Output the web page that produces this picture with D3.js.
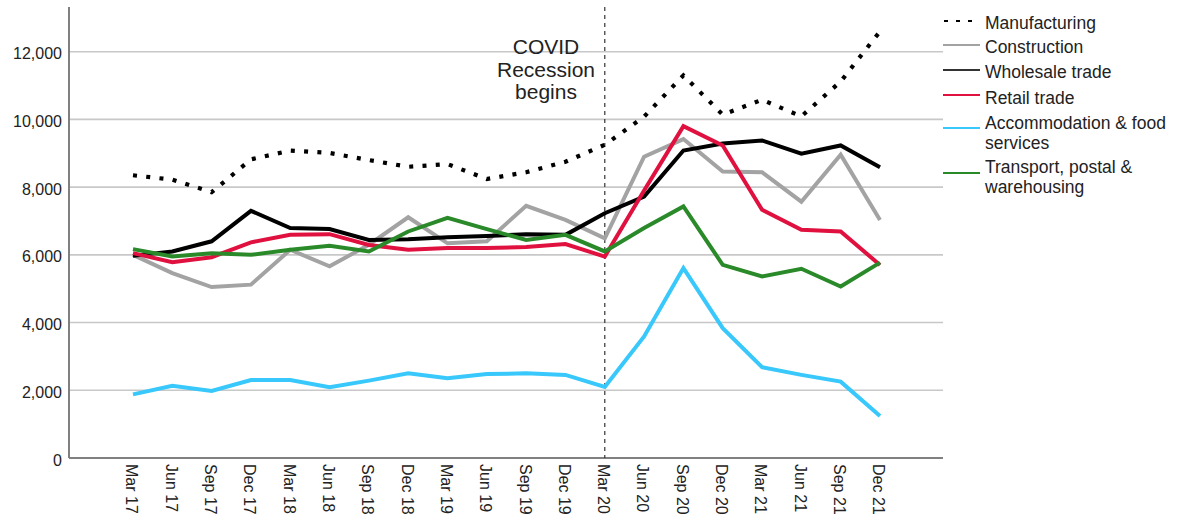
<!DOCTYPE html>
<html>
<head>
<meta charset="utf-8">
<script src="https://cdn.jsdelivr.net/npm/d3@7"></script>
<style>
  html, body { margin: 0; padding: 0; background: #fff; }
  svg { display: block; font-family: "Liberation Sans", Arial, sans-serif; }
</style>
</head>
<body>
<svg id="chart" width="1201" height="517"></svg>
<script>
const categories = ["Mar 17","Jun 17","Sep 17","Dec 17","Mar 18","Jun 18","Sep 18","Dec 18","Mar 19","Jun 19","Sep 19","Dec 19","Mar 20","Jun 20","Sep 20","Dec 20","Mar 21","Jun 21","Sep 21","Dec 21"];
const manufacturing = [8350, 8220, 7850, 8820, 9080, 9010, 8800, 8600, 8680, 8240, 8440, 8750, 9250, 10080, 11300, 10140, 10580, 10090, 11120, 12600];
const construction = [6000, 5460, 5050, 5120, 6150, 5660, 6300, 7110, 6340, 6400, 7450, 7030, 6490, 8900, 9420, 8460, 8440, 7570, 8960, 7030];
const wholesale = [5970, 6100, 6400, 7300, 6790, 6760, 6440, 6460, 6520, 6560, 6610, 6590, 7230, 7720, 9080, 9290, 9380, 8990, 9230, 8590];
const retail = [6050, 5780, 5930, 6370, 6590, 6610, 6290, 6150, 6200, 6200, 6230, 6320, 5950, 7900, 9800, 9230, 7330, 6740, 6690, 5700];
const accommodation = [1880, 2130, 1980, 2305, 2305, 2090, 2285, 2500, 2355, 2480, 2500, 2455, 2100, 3590, 5610, 3835, 2680, 2455, 2255, 1240];
const transport = [6170, 5950, 6050, 6000, 6150, 6270, 6100, 6690, 7090, 6760, 6440, 6590, 6100, 6790, 7430, 5705, 5360, 5590, 5065, 5770];
const yTicks = [0, 2000, 4000, 6000, 8000, 10000, 12000];
const seriesNames = ["Manufacturing", "Construction", "Wholesale trade", "Retail trade", "Accommodation & food services", "Transport, postal & warehousing"];
const legendLines = [["Manufacturing"], ["Construction"], ["Wholesale trade"], ["Retail trade"], ["Accommodation & food", "services"], ["Transport, postal &", "warehousing"]];
const annotationLines = ["COVID", "Recession", "begins"];
const annotationAt = "Mar 20";

const seriesValues = [manufacturing, construction, wholesale, retail, accommodation, transport];
const colors = ["#000000", "#a3a3a3", "#000000", "#e0103f", "#38c8fb", "#2a8a2a"];

const svg = d3.select("#chart");
const plotLeft = 69, plotRight = 943, plotBottom = 458, plotTop = 7;

const x = d3.scalePoint().domain(categories).range([133, 880]);
const y = d3.scaleLinear().domain([0, 13320]).range([plotBottom, plotTop]);

// gridlines
svg.append("g").selectAll("line").data(yTicks.filter(d => d > 0)).join("line")
  .attr("x1", plotLeft).attr("x2", plotRight)
  .attr("y1", d => y(d)).attr("y2", d => y(d))
  .attr("stroke", "#c8c8c8").attr("stroke-width", 1.6);

// y axis labels
svg.append("g").selectAll("text").data(yTicks).join("text")
  .attr("x", 62).attr("y", d => y(d) + 2)
  .attr("dy", "0.35em")
  .attr("text-anchor", "end")
  .attr("font-size", 16).attr("fill", "#222")
  .text(d => d3.format(",")(d));

// x labels
svg.append("g").selectAll("text").data(categories).join("text")
  .attr("transform", d => `translate(${x(d) - 1},${plotBottom + 6}) rotate(90)`)
  .attr("dy", "0.35em")
  .attr("text-anchor", "start")
  .attr("font-size", 16).attr("fill", "#222")
  .text(d => d);

// axes lines
svg.append("line").attr("x1", plotLeft).attr("x2", plotLeft).attr("y1", plotTop).attr("y2", plotBottom)
  .attr("stroke", "#808080").attr("stroke-width", 2);
svg.append("line").attr("x1", plotLeft).attr("x2", plotRight).attr("y1", plotBottom).attr("y2", plotBottom)
  .attr("stroke", "#808080").attr("stroke-width", 2);

// COVID vertical dashed line
svg.append("line")
  .attr("x1", x(annotationAt)).attr("x2", x(annotationAt))
  .attr("y1", plotTop).attr("y2", plotBottom)
  .attr("stroke", "#333").attr("stroke-width", 1.2)
  .attr("stroke-dasharray", "4,4");

// annotation text
svg.append("g").selectAll("text").data(annotationLines).join("text")
  .attr("x", 546).attr("y", (d, i) => 47 + i * 22.5)
  .attr("dy", "0.35em")
  .attr("text-anchor", "middle")
  .attr("font-size", 21).attr("fill", "#222")
  .text(d => d);

// series lines
const line = d3.line().x((d, i) => x(categories[i])).y(d => y(d));
seriesValues.forEach((vals, k) => {
  const p = svg.append("path").datum(vals)
    .attr("d", line)
    .attr("fill", "none")
    .attr("stroke", colors[k])
    .attr("stroke-width", 4)
    .attr("stroke-linejoin", "miter");
  if (k === 0) p.attr("stroke-dasharray", "4,9.3").attr("stroke-width", 4.2);
});

// legend
const sampleY = [21, 45, 70, 95, 128, 173];
const textY = [23, 47, 72, 98, 123, 167];
const lg = svg.append("g");
legendLines.forEach((lines, k) => {
  const l = lg.append("line")
    .attr("x1", 943).attr("x2", 980)
    .attr("y1", sampleY[k]).attr("y2", sampleY[k])
    .attr("stroke", colors[k]).attr("stroke-width", 2);
  if (k === 0) l.attr("stroke-dasharray", "4,8").attr("x1", 944);
  if (k === 2) l.attr("stroke", "#333");
  lines.forEach((t, j) => {
    lg.append("text")
      .attr("x", 985).attr("y", textY[k] + j * 20)
      .attr("dy", "0.35em")
      .attr("font-size", 17.5).attr("fill", "#222")
      .text(t);
  });
});
</script>
</body>
</html>
